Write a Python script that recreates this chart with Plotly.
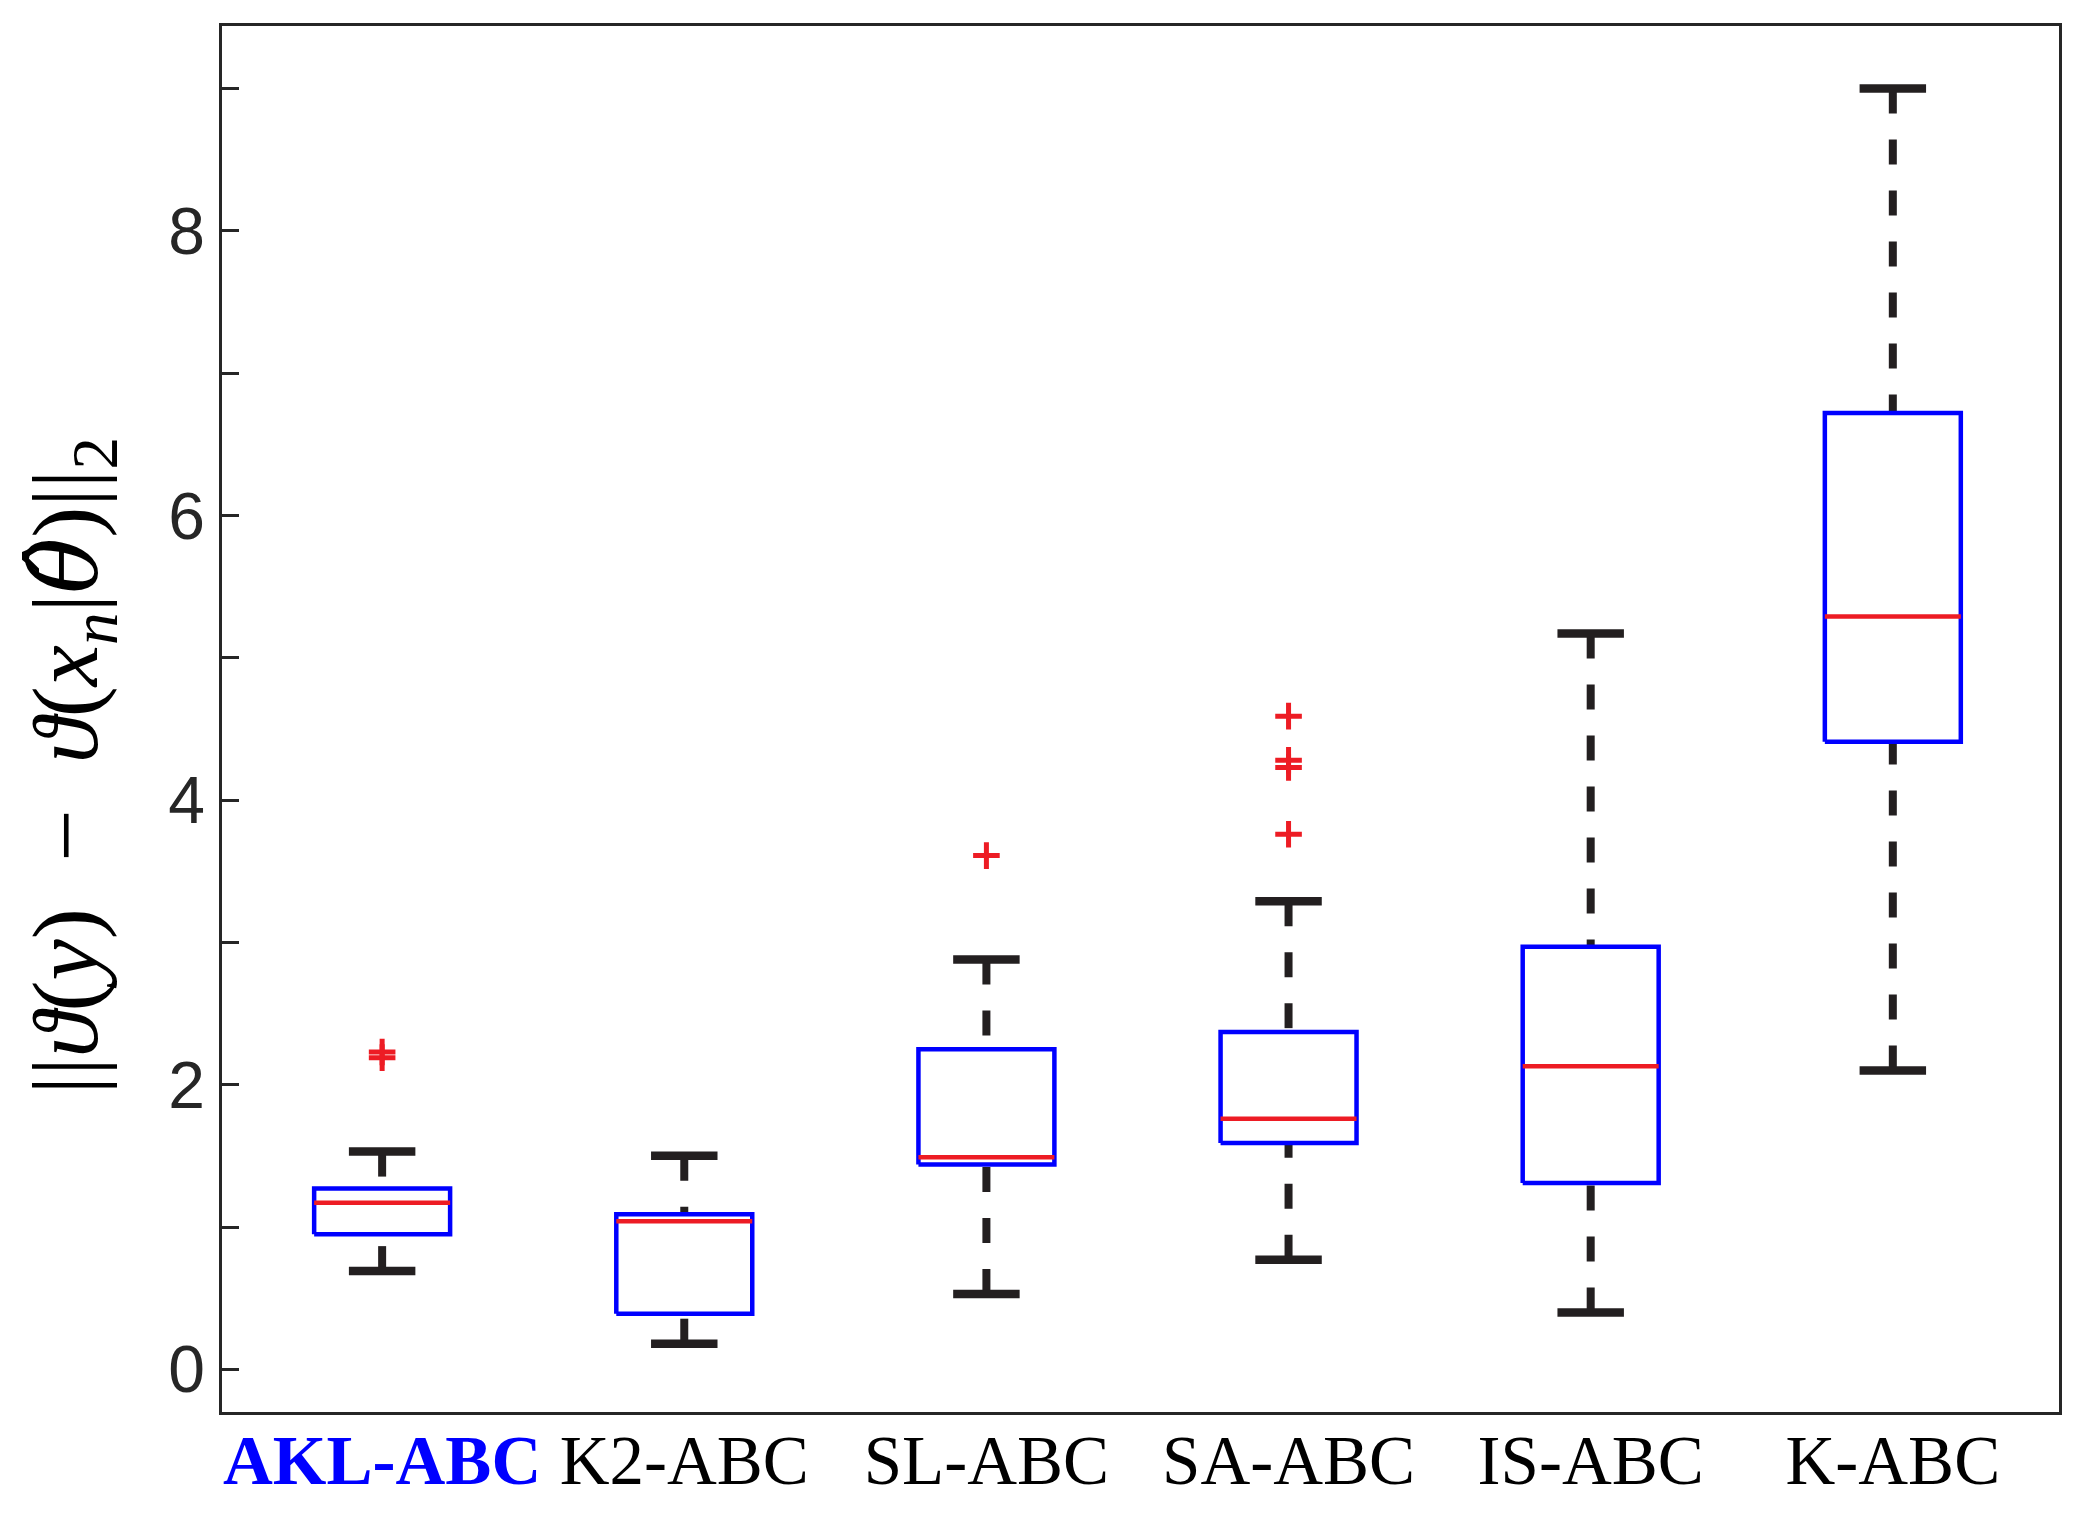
import plotly.graph_objects as go

# ---- data ----
categories = ["AKL-ABC", "K2-ABC", "SL-ABC", "SA-ABC", "IS-ABC", "K-ABC"]
lower_whisker = [0.69, 0.18, 0.53, 0.77, 0.40, 2.10]
q1_values = [0.95, 0.39, 1.44, 1.59, 1.31, 4.41]
median_values = [1.17, 1.04, 1.49, 1.76, 2.13, 5.29]
q3_values = [1.27, 1.09, 2.25, 2.37, 2.97, 6.72]
upper_whisker = [1.53, 1.50, 2.88, 3.29, 5.17, 9.00]
outliers = [[2.19, 2.23], [], [3.61], [3.76, 4.23, 4.28, 4.59], [], []]
y_tick_values = [0, 2, 4, 6, 8]
y_tick_labels = ["0", "2", "4", "6", "8"]

# ---- style ----
BOX_HALF = 0.225
CAP_HALF = 0.11
BLUE = "#0000FF"
RED = "#ED1C24"
DARK = "#231F20"
AXIS = "#262626"

positions = list(range(1, len(categories) + 1))

wx, wy, cx, cy, bx, by, mx, my, ox, oy = ([] for _ in range(10))
for p, lo, a, m, b, hi, outs in zip(positions, lower_whisker, q1_values, median_values,
                                     q3_values, upper_whisker, outliers):
    wx += [p, p, None, p, p, None]
    wy += [hi, b, None, lo, a, None]
    cx += [p - CAP_HALF, p + CAP_HALF, None, p - CAP_HALF, p + CAP_HALF, None]
    cy += [hi, hi, None, lo, lo, None]
    bx += [p - BOX_HALF, p + BOX_HALF, p + BOX_HALF, p - BOX_HALF, p - BOX_HALF, None]
    by += [a, a, b, b, a, None]
    mx += [p - BOX_HALF, p + BOX_HALF, None]
    my += [m, m, None]
    ox += [p] * len(outs)
    oy += outs

fig = go.Figure()
fig.add_trace(go.Scatter(x=wx, y=wy, mode="lines", hoverinfo="skip",
                         line=dict(color=DARK, width=8, dash="25px,26px")))
fig.add_trace(go.Scatter(x=cx, y=cy, mode="lines", hoverinfo="skip",
                         line=dict(color=DARK, width=8.5)))
fig.add_trace(go.Scatter(x=bx, y=by, mode="lines", hoverinfo="skip",
                         line=dict(color=BLUE, width=4.5)))
fig.add_trace(go.Scatter(x=mx, y=my, mode="lines", hoverinfo="skip",
                         line=dict(color=RED, width=4.5)))
fig.add_trace(go.Scatter(x=ox, y=oy, mode="markers", hoverinfo="skip",
                         marker=dict(symbol="cross-thin", size=19,
                                     line=dict(color=RED, width=5))))

tick_text = []
for i, c in enumerate(categories):
    if i == 0:
        tick_text.append(f"<b><span style='color:{BLUE}'>{c}</span></b>")
    else:
        tick_text.append(c)

title_text = ("||<i>ϑ</i>(<i>y</i>)  −  <i>ϑ</i>(<i>x</i><sub><i>n</i></sub>|"
              "<span style='font-family:DejaVu Serif'><i>θ̂</i></span>)||<sub>2</sub>")

fig.update_layout(
    width=2064, height=1501,
    margin=dict(l=214, r=10, t=18, b=94),
    paper_bgcolor="white", plot_bgcolor="white",
    showlegend=False,
    xaxis=dict(
        range=[0.47, 6.55], tickmode="array", tickvals=positions, ticktext=tick_text,
        showline=True, mirror=True, linecolor=AXIS, linewidth=2.5,
        ticks="", showgrid=False, zeroline=False,
        tickfont=dict(family="Liberation Serif", size=69, color="black"),
        ticklabelstandoff=-14,
    ),
    yaxis=dict(
        range=[-0.3, 9.44], tickmode="array", tickvals=y_tick_values, ticktext=y_tick_labels,
        showline=True, mirror=True, linecolor=AXIS, linewidth=2.5,
        ticks="inside", ticklen=17, tickwidth=2.5, tickcolor=AXIS,
        minor=dict(dtick=1, ticks="inside", ticklen=17, tickwidth=2.5, tickcolor=AXIS),
        showgrid=False, zeroline=False,
        tickfont=dict(family="Liberation Sans", size=66, color=AXIS),
        ticklabelstandoff=1,
    ),
    annotations=[dict(
        text=title_text,
        xref="paper", yref="paper", x=-0.082, y=0.466,
        xanchor="center", yanchor="middle", textangle=-90, showarrow=False,
        font=dict(family="Liberation Serif", size=93, color="black"),
    )],
)

fig.write_html("out.html")
